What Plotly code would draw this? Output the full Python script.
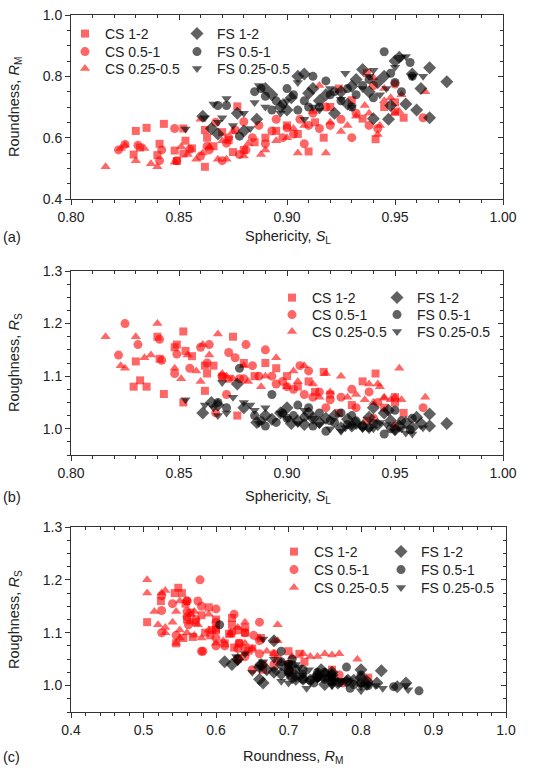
import plotly.graph_objects as go

# particle shape data: sphericity S_L, roundness R_M, roughness R_S
cs12_s = [0.830, 0.835, 0.843, 0.829, 0.832, 0.840, 0.841, 0.848, 0.849, 0.852, 0.853, 0.852, 0.856, 0.862,
          0.862, 0.863, 0.866, 0.870, 0.873, 0.877, 0.875, 0.880, 0.885, 0.890, 0.895, 0.900, 0.905, 0.910,
          0.913, 0.917, 0.920, 0.924, 0.930, 0.935, 0.937, 0.941, 0.945, 0.950, 0.950, 0.954]
cs12_rm = [0.622, 0.632, 0.645, 0.545, 0.568, 0.543, 0.580, 0.558, 0.524, 0.630, 0.590, 0.548, 0.565, 0.625,
           0.505, 0.600, 0.572, 0.618, 0.592, 0.702, 0.553, 0.560, 0.585, 0.600, 0.622, 0.640, 0.612, 0.555,
           0.650, 0.600, 0.700, 0.760, 0.722, 0.662, 0.810, 0.595, 0.700, 0.715, 0.685, 0.665]
cs12_rs = [1.128, 1.080, 1.066, 1.080, 1.092, 1.175, 1.133, 1.155, 1.160, 1.050, 1.148, 1.185, 1.138, 1.072,
           1.120, 1.105, 1.120, 1.098, 1.095, 1.025, 1.175, 1.125, 1.100, 1.125, 1.115, 1.100, 1.080, 1.090,
           1.070, 1.108, 1.065, 1.030, 1.045, 1.090, 1.015, 1.105, 1.040, 1.060, 1.050, 1.030]

cs051_s = [0.822, 0.825, 0.831, 0.841, 0.842, 0.848, 0.849, 0.855, 0.860, 0.863, 0.864, 0.867, 0.870, 0.872,
           0.873, 0.876, 0.878, 0.880, 0.881, 0.884, 0.887, 0.890, 0.893, 0.895, 0.898, 0.900, 0.903, 0.906,
           0.908, 0.910, 0.912, 0.915, 0.918, 0.920, 0.925, 0.930, 0.932, 0.938, 0.940, 0.942, 0.950, 0.963]
cs051_rm = [0.560, 0.578, 0.575, 0.525, 0.560, 0.630, 0.525, 0.562, 0.540, 0.572, 0.560, 0.650, 0.525, 0.582,
            0.600, 0.625, 0.545, 0.652, 0.560, 0.600, 0.640, 0.580, 0.622, 0.660, 0.600, 0.632, 0.612, 0.660,
            0.580, 0.640, 0.680, 0.630, 0.700, 0.640, 0.660, 0.600, 0.680, 0.640, 0.770, 0.630, 0.775, 0.665]
cs051_rs = [1.140, 1.200, 1.160, 1.170, 1.130, 1.105, 1.142, 1.115, 1.155, 1.125, 1.160, 1.030, 1.100, 1.065,
            1.145, 1.135, 1.095, 1.095, 1.160, 1.120, 1.100, 1.150, 1.100, 1.085, 1.090, 1.080, 1.075, 1.120,
            1.065, 1.110, 1.060, 1.070, 1.040, 1.055, 1.060, 1.075, 1.040, 1.070, 1.020, 1.050, 1.005, 1.040]

cs025_s = [0.816, 0.823, 0.825, 0.830, 0.834, 0.837, 0.840, 0.848, 0.851, 0.854, 0.858, 0.861, 0.864, 0.860,
           0.868, 0.870, 0.872, 0.875, 0.880, 0.882, 0.888, 0.890, 0.895, 0.900, 0.903, 0.905, 0.908, 0.912,
           0.915, 0.918, 0.920, 0.925, 0.928, 0.932, 0.936, 0.938, 0.942, 0.943, 0.945, 0.948, 0.950, 0.952,
           0.953, 0.964, 0.940, 0.945]
cs025_rm = [0.505, 0.565, 0.575, 0.525, 0.565, 0.515, 0.505, 0.520, 0.570, 0.545, 0.530, 0.550, 0.570, 0.660,
            0.530, 0.590, 0.530, 0.620, 0.540, 0.580, 0.545, 0.560, 0.590, 0.600, 0.630, 0.550, 0.640, 0.685,
            0.770, 0.550, 0.650, 0.620, 0.640, 0.670, 0.705, 0.680, 0.610, 0.640, 0.720, 0.730, 0.680, 0.685,
            0.740, 0.750, 0.795, 0.760]
cs025_rs = [1.175, 1.120, 1.115, 1.175, 1.135, 1.140, 1.200, 1.115, 1.095, 1.140, 1.110, 1.160, 1.140, 1.090,
            1.180, 1.105, 1.100, 1.095, 1.120, 1.090, 1.080, 1.100, 1.135, 1.080, 1.110, 1.090, 1.120, 1.085,
            1.060, 1.105, 1.070, 1.100, 1.060, 1.065, 1.055, 1.085, 1.085, 1.080, 1.060, 1.055, 1.060, 1.115,
            1.055, 1.060, 1.050, 1.058]

fs12_s = [0.861, 0.865, 0.868, 0.877, 0.880, 0.886, 0.890, 0.893, 0.897, 0.902, 0.905, 0.908, 0.912, 0.915,
          0.918, 0.922, 0.925, 0.928, 0.932, 0.935, 0.938, 0.940, 0.942, 0.945, 0.947, 0.948, 0.950, 0.952,
          0.955, 0.958, 0.960, 0.962, 0.966, 0.966, 0.974, 0.900, 0.910, 0.930]
fs12_rm = [0.670, 0.630, 0.612, 0.680, 0.622, 0.660, 0.760, 0.740, 0.700, 0.730, 0.800, 0.808, 0.760, 0.720,
           0.740, 0.680, 0.750, 0.710, 0.790, 0.822, 0.750, 0.662, 0.780, 0.800, 0.660, 0.705, 0.850, 0.862,
           0.710, 0.808, 0.690, 0.760, 0.828, 0.665, 0.782, 0.690, 0.745, 0.768]
fs12_rs = [1.030, 1.050, 1.045, 1.085, 1.040, 1.012, 1.025, 1.018, 1.030, 1.010, 1.015, 1.008, 1.020, 1.012,
           1.020, 1.025, 1.002, 1.018, 1.010, 1.005, 1.022, 1.040, 1.008, 1.030, 1.035, 1.015, 0.998, 1.005,
           1.012, 1.002, 1.022, 1.010, 1.028, 1.005, 1.010, 1.040, 1.030, 1.005]

fs051_s = [0.868, 0.872, 0.878, 0.885, 0.888, 0.890, 0.893, 0.895, 0.898, 0.900, 0.903, 0.905, 0.908, 0.910,
           0.912, 0.915, 0.918, 0.920, 0.922, 0.925, 0.928, 0.932, 0.935, 0.938, 0.940, 0.945, 0.948, 0.950,
           0.953, 0.958, 0.957, 0.930]
fs051_rm = [0.705, 0.705, 0.605, 0.750, 0.760, 0.735, 0.690, 0.720, 0.710, 0.760, 0.740, 0.690, 0.720, 0.700,
            0.800, 0.700, 0.785, 0.740, 0.750, 0.720, 0.760, 0.740, 0.770, 0.790, 0.730, 0.880, 0.810, 0.780,
            0.750, 0.800, 0.845, 0.700]
fs051_rs = [1.050, 1.040, 1.115, 1.025, 1.015, 1.005, 1.065, 1.012, 1.030, 1.020, 1.025, 1.045, 1.022, 1.040,
            1.005, 1.030, 0.995, 1.015, 1.012, 1.030, 1.008, 1.015, 1.005, 1.002, 1.010, 0.990, 1.000, 1.035,
            1.015, 1.020, 0.998, 1.025]

fs025_s = [0.853, 0.862, 0.866, 0.868, 0.872, 0.875, 0.880, 0.883, 0.885, 0.887, 0.890, 0.897, 0.900, 0.905,
           0.908, 0.912, 0.915, 0.920, 0.925, 0.927, 0.930, 0.935, 0.938, 0.940, 0.943, 0.946, 0.950, 0.953,
           0.955, 0.958, 0.963, 0.870]
fs025_rm = [0.628, 0.665, 0.710, 0.650, 0.728, 0.640, 0.680, 0.630, 0.715, 0.770, 0.700, 0.680, 0.720, 0.780,
            0.660, 0.700, 0.690, 0.760, 0.725, 0.810, 0.700, 0.760, 0.800, 0.820, 0.740, 0.760, 0.830, 0.862,
            0.865, 0.800, 0.800, 0.665]
fs025_rs = [1.055, 1.045, 1.040, 1.025, 1.030, 1.060, 1.050, 1.045, 1.035, 1.010, 1.040, 1.030, 1.020, 1.010,
            1.035, 1.020, 1.008, 1.000, 0.995, 1.002, 1.005, 1.000, 0.998, 1.000, 1.012, 1.008, 0.995, 1.000,
            0.992, 0.990, 1.002, 1.088]

names = ["CS 1-2", "CS 0.5-1", "CS 0.25-0.5", "FS 1-2", "FS 0.5-1", "FS 0.25-0.5"]
sphericity = [cs12_s, cs051_s, cs025_s, fs12_s, fs051_s, fs025_s]
roundness = [cs12_rm, cs051_rm, cs025_rm, fs12_rm, fs051_rm, fs025_rm]
roughness = [cs12_rs, cs051_rs, cs025_rs, fs12_rs, fs051_rs, fs025_rs]

symbols = ["square", "circle", "triangle-up", "diamond", "circle", "triangle-down"]
sizes = [8, 9, 9, 10, 9, 9]
RED = "rgba(255,0,0,0.6)"
DARK = "rgba(0,0,0,0.62)"
colors = [RED, RED, RED, DARK, DARK, DARK]

W, H = 550, 779
AX = "#333333"
FONT = "Arial, Liberation Sans, sans-serif"
TXT = "#222222"


def px(x):
    return x / W


def py(y):
    return 1 - y / H


fig = go.Figure()

# legend entry positions per panel (marker centre x of each column, row centres y)
leg_cols = [(84, 196), (291, 396), (293, 400)]
leg_rows = [(35, 53, 70), (299, 316, 333), (553, 571, 589)]

legends = {}
panels = [(sphericity, roundness, ""), (sphericity, roughness, "2"), (roundness, roughness, "3")]
for p, (xs, ys, k) in enumerate(panels):
    for i, name in enumerate(names):
        n = p * 6 + i + 1
        lid = "legend" if n == 1 else "legend%d" % n
        mx = leg_cols[p][i // 3]
        my = leg_rows[p][i % 3]
        legends[lid] = dict(x=px(mx - 19), y=py(my - 17), xanchor="left", yanchor="top",
                            bgcolor="rgba(0,0,0,0)", font=dict(size=14, color=TXT, family=FONT),
                            itemclick=False, itemdoubleclick=False)
        fig.add_trace(go.Scatter(
            x=xs[i], y=ys[i], mode="markers", name=name, showlegend=True,
            marker=dict(symbol=symbols[i], size=sizes[i], color=colors[i], line=dict(width=0)),
            xaxis="x" + k, yaxis="y" + k, legend=lid,
        ))

# empty traces so the mirror axes (inward ticks on top/right) get drawn
for k, k2 in [("", "4"), ("2", "5"), ("3", "6")]:
    fig.add_trace(go.Scatter(x=[], y=[], xaxis="x" + k2, yaxis="y" + k, showlegend=False, hoverinfo="skip"))
    fig.add_trace(go.Scatter(x=[], y=[], xaxis="x" + k, yaxis="y" + k2, showlegend=False, hoverinfo="skip"))


def axis(rng, t0, dtick, minor, fmt, dom, anchor, side=None, overlay=None, inner=False):
    a = dict(
        range=rng, dtick=dtick, tick0=t0, tickformat=fmt, domain=dom, anchor=anchor,
        showline=True, linecolor=AX, linewidth=1, showgrid=False, zeroline=False,
        ticks="inside" if inner else "outside", ticklen=5, tickwidth=1, tickcolor=AX,
        minor=dict(dtick=minor, tick0=rng[0], ticks="inside" if inner else "outside",
                   ticklen=3, tickwidth=1, tickcolor=AX, showgrid=False),
        tickfont=dict(size=14, color=TXT, family=FONT),
        showticklabels=not inner, fixedrange=True, automargin=False,
    )
    if side:
        a["side"] = side
    if overlay:
        a["overlaying"] = overlay
    return a


xdom_ab = [px(71), px(503)]
xdom_c = [px(71), px(506)]
ydom = [[py(199), py(15)], [py(455), py(271)], [py(712), py(527)]]

xa = ([0.8, 1.0], 0.8, 0.05, 0.01, ".2f")
xc = ([0.4, 1.0], 0.4, 0.1, 0.02, ".1f")
ya = ([0.4, 1.0], 0.4, 0.2, 0.05, ".1f")
yb = ([0.95, 1.3], 1.0, 0.1, 0.025, ".1f")

layout_axes = dict(
    xaxis=axis(*xa, xdom_ab, "y"),
    yaxis=axis(*ya, ydom[0], "x"),
    xaxis2=axis(*xa, xdom_ab, "y2"),
    yaxis2=axis(*yb, ydom[1], "x2"),
    xaxis3=axis(*xc, xdom_c, "y3"),
    yaxis3=axis(*yb, ydom[2], "x3"),
    xaxis4=axis(*xa, xdom_ab, "y", side="top", overlay="x", inner=True),
    yaxis4=axis(*ya, ydom[0], "x", side="right", overlay="y", inner=True),
    xaxis5=axis(*xa, xdom_ab, "y2", side="top", overlay="x2", inner=True),
    yaxis5=axis(*yb, ydom[1], "x2", side="right", overlay="y2", inner=True),
    xaxis6=axis(*xc, xdom_c, "y3", side="top", overlay="x3", inner=True),
    yaxis6=axis(*yb, ydom[2], "x3", side="right", overlay="y3", inner=True),
)

# axis titles and panel labels
ann = []
tfont = dict(size=14.5, color=TXT, family=FONT)
xtitles = [("Sphericity, <i>S</i><sub>L</sub>", 288, 237),
           ("Sphericity, <i>S</i><sub>L</sub>", 288, 497),
           ("Roundness, <i>R</i><sub>M</sub>", 293, 757)]
ytitles = [("Roundness, <i>R</i><sub>M</sub>", 107),
           ("Roughness, <i>R</i><sub>S</sub>", 363),
           ("Roughness, <i>R</i><sub>S</sub>", 620)]
for t, x, y in xtitles:
    ann.append(dict(text=t, x=px(x), y=py(y), xref="paper", yref="paper", showarrow=False,
                    xanchor="center", yanchor="middle", font=tfont))
for t, y in ytitles:
    ann.append(dict(text=t, x=px(15), y=py(y), xref="paper", yref="paper", showarrow=False,
                    xanchor="center", yanchor="middle", textangle=-90, font=tfont))
for lab, y in [("(a)", 237), ("(b)", 497), ("(c)", 757)]:
    ann.append(dict(text=lab, x=px(1), y=py(y), xref="paper", yref="paper", showarrow=False,
                    xanchor="left", yanchor="middle", font=tfont))

fig.update_layout(
    width=W, height=H,
    margin=dict(l=0, r=0, t=0, b=0),
    paper_bgcolor="white", plot_bgcolor="white",
    font=dict(family=FONT, color=TXT),
    showlegend=True,
    annotations=ann,
    **layout_axes,
    **legends,
)

fig.write_html("out.html", config={"displayModeBar": False},
               post_script="document.body.style.margin = '0px';")
